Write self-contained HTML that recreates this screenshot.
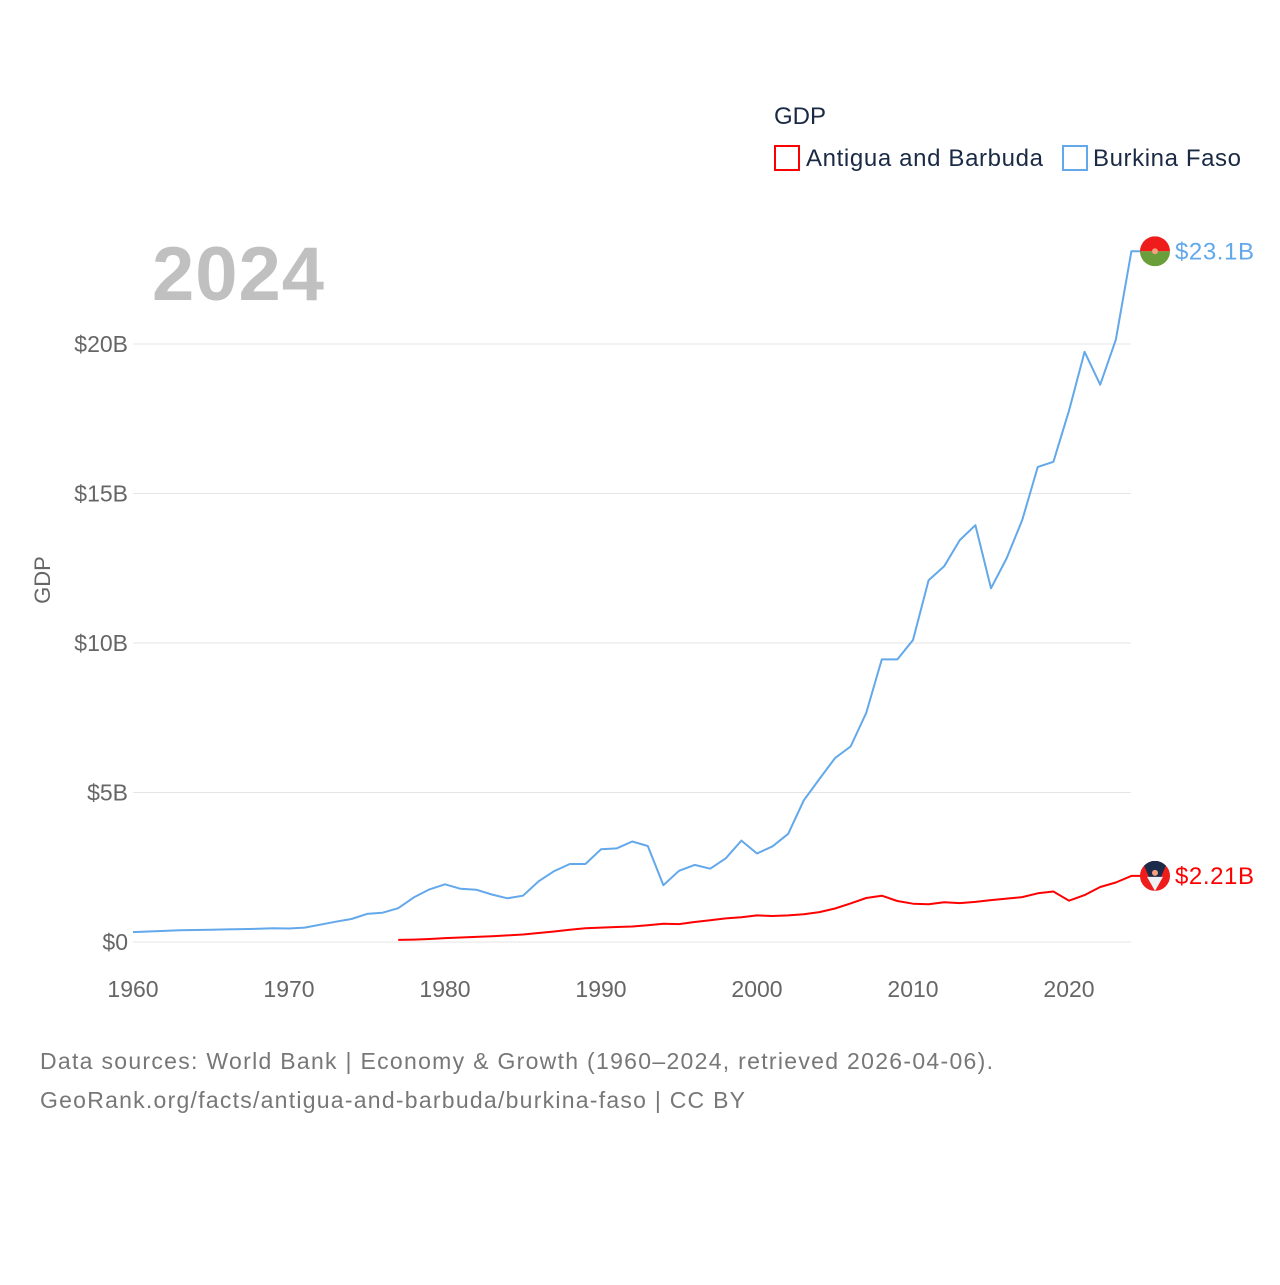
<!DOCTYPE html>
<html><head><meta charset="utf-8"><style>
body{margin:0;background:#fff;}
svg text{font-family:"Liberation Sans",sans-serif;}
</style></head><body>
<svg width="1280" height="1280" xmlns="http://www.w3.org/2000/svg">
<rect width="1280" height="1280" fill="#fff"/>
<g id="grid"></g>
<g id="ylabels"></g>
<g id="xlabels"></g>
<text x="152" y="300" font-size="76" font-weight="bold" fill="#c0c0c0" textLength="172">2024</text>
<text x="50" y="580" font-size="22" fill="#666" transform="rotate(-90 50 580)" text-anchor="middle">GDP</text>
<text x="774" y="124" font-size="24" fill="#1a2a44">GDP</text>
<g>
<rect x="775" y="146" width="24" height="24" fill="none" stroke="#ff0000" stroke-width="2"/>
<text x="806" y="166" font-size="24" fill="#1a2a44" textLength="237">Antigua and Barbuda</text></g>
<g>
<rect x="1063" y="146" width="24" height="24" fill="none" stroke="#62a8ea" stroke-width="2"/>
<text x="1093" y="166" font-size="24" fill="#1a2a44" textLength="148">Burkina Faso</text></g>
<g id="series"></g>
<text x="40" y="1069" font-size="23" fill="#777" textLength="953">Data sources: World Bank | Economy &amp; Growth (1960–2024, retrieved 2026-04-06).</text>
<text x="40" y="1108" font-size="23" fill="#777" textLength="705">GeoRank.org/facts/antigua-and-barbuda/burkina-faso | CC BY</text>
</svg>
<script>
const bfYears=[];for(let y=1960;y<=2024;y++)bfYears.push(y);
const bfValues=[0.33,0.35,0.37,0.39,0.40,0.41,0.42,0.43,0.44,0.46,0.45,0.48,0.58,0.68,0.77,0.94,0.98,1.13,1.49,1.76,1.93,1.78,1.75,1.59,1.46,1.55,2.03,2.37,2.61,2.61,3.10,3.13,3.36,3.21,1.90,2.38,2.58,2.45,2.80,3.39,2.96,3.20,3.62,4.74,5.45,6.15,6.54,7.66,9.45,9.45,10.1,12.1,12.57,13.44,13.94,11.83,12.83,14.11,15.89,16.06,17.77,19.74,18.64,20.14,23.1];
const agYears=[];for(let y=1977;y<=2024;y++)agYears.push(y);
const agValues=[0.07,0.08,0.10,0.13,0.15,0.17,0.19,0.22,0.25,0.30,0.35,0.41,0.46,0.48,0.50,0.52,0.56,0.61,0.60,0.67,0.73,0.79,0.83,0.89,0.87,0.89,0.93,1.00,1.12,1.29,1.47,1.55,1.37,1.28,1.26,1.33,1.30,1.34,1.40,1.45,1.50,1.63,1.69,1.38,1.57,1.84,1.99,2.21];
const yTicks=[0,5,10,15,20];
const yTickLabels=["$0","$5B","$10B","$15B","$20B"];
const xTicks=[1960,1970,1980,1990,2000,2010,2020];
const NS="http://www.w3.org/2000/svg";
const X=v=>133+(v-1960)*15.6;
const Y=v=>942-v*29.9;
function mk(t,a,p){const e=document.createElementNS(NS,t);for(const k in a)e.setAttribute(k,a[k]);p.appendChild(e);return e;}
const grid=document.getElementById('grid'),yl=document.getElementById('ylabels'),xl=document.getElementById('xlabels'),ser=document.getElementById('series');
yTicks.forEach((t,i)=>{
 const l=mk('line',{x1:133,x2:1131,y1:Y(t),y2:Y(t),stroke:'#e6e6e6','stroke-width':1},grid);
 
 
 const tx=mk('text',{x:128,y:Y(t)+8,'font-size':23,fill:'#666','text-anchor':'end'},yl);tx.textContent=yTickLabels[i];
 
 
});
xTicks.forEach(t=>{
 const tx=mk('text',{x:X(t),y:997,'font-size':23,fill:'#666','text-anchor':'middle'},xl);tx.textContent=t;
 
 
});
function line(years,vals,color,name){
 let d=years.map((y,i)=>(i?'L':'M')+X(y).toFixed(1)+' '+Y(vals[i]).toFixed(1)).join(' ');
 d+=' L'+(X(2024)+10)+' '+Y(vals[vals.length-1]).toFixed(1);
 const p=mk('path',{d:d,fill:'none',stroke:color,'stroke-width':2,'stroke-linejoin':'round'},ser);
 
 
}
line(bfYears,bfValues,'#62a8ea','burkina-faso-line');
line(agYears,agValues,'#ff0000','antigua-line');
const bfY=Y(bfValues[bfValues.length-1]),agY=Y(agValues[agValues.length-1]);
const g1=mk('g',{},ser);


mk('clipPath',{id:'c1'},g1);mk('circle',{cx:1155,cy:bfY,r:15},g1.firstChild);
mk('rect',{x:1140,y:bfY-15,width:30,height:15,fill:'#ef1c1c','clip-path':'url(#c1)'},g1);
mk('rect',{x:1140,y:bfY,width:30,height:15,fill:'#6a9e3a','clip-path':'url(#c1)'},g1);
mk('circle',{cx:1155,cy:bfY,r:3,fill:'#f5a080'},g1);
const t1=mk('text',{x:1175,y:bfY+8,'font-size':24,fill:'#62a8ea',textLength:79},ser);t1.textContent='$23.1B';


const g2=mk('g',{},ser);


mk('clipPath',{id:'c2'},g2);mk('circle',{cx:1155,cy:agY,r:15},g2.firstChild);
mk('rect',{x:1140,y:agY-15,width:30,height:30,fill:'#ef1c1c','clip-path':'url(#c2)'},g2);
mk('polygon',{points:`1142,${agY-15} 1168,${agY-15} 1155,${agY+15}`,fill:'#1c2b4a','clip-path':'url(#c2)'},g2);
mk('polygon',{points:`1147,${agY+1} 1163,${agY+1} 1155,${agY+15}`,fill:'#eef0f4'},g2);
mk('circle',{cx:1155,cy:agY-3,r:3,fill:'#f5a080'},g2);
const t2=mk('text',{x:1175,y:agY+8,'font-size':24,fill:'#ff0000',textLength:79},ser);t2.textContent='$2.21B';


</script>
</body></html>
